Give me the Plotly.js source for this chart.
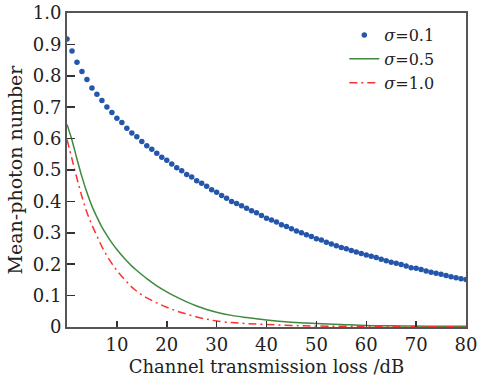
<!DOCTYPE html>
<html>
<head>
<meta charset="utf-8">
<script src="https://cdn.plot.ly/plotly-3.0.1.min.js"></script>
<style>html,body{margin:0;padding:0;background:#fff;}#chart{width:478px;height:381px;}</style>
</head>
<body>
<div id="chart"></div>
<script>
// sigma = 0.1 (dots, one per dB)
var lossDots = [0,1,2,3,4,5,6,7,8,9,10,11,12,13,14,15,16,17,18,19,20,21,22,23,24,25,26,27,28,29,30,31,32,33,34,35,36,37,38,39,40,41,42,43,44,45,46,47,48,49,50,51,52,53,54,55,56,57,58,59,60,61,62,63,64,65,66,67,68,69,70,71,72,73,74,75,76,77,78,79,80];
var sigma01 = [0.917,0.879,0.843,0.814,0.788,0.761,0.741,0.721,0.701,0.683,0.665,0.651,0.633,0.618,0.606,0.591,0.577,0.566,0.553,0.541,0.531,0.519,0.507,0.498,0.486,0.478,0.466,0.458,0.448,0.437,0.429,0.419,0.410,0.400,0.393,0.386,0.378,0.370,0.364,0.355,0.346,0.341,0.334,0.326,0.320,0.313,0.306,0.300,0.294,0.288,0.281,0.277,0.270,0.264,0.259,0.253,0.249,0.244,0.239,0.234,0.229,0.225,0.221,0.216,0.211,0.206,0.203,0.199,0.194,0.189,0.187,0.183,0.178,0.174,0.171,0.168,0.164,0.160,0.157,0.154,0.151];

// sigma = 0.5 (solid green)
var lossG = [0,1,2,3,4,5,6,7,8,9,10,11,12,13,14,16,18,20,22,24,26,28,30,33,36,40,45,50,55,60,65,70,75,80];
var sigma05 = [0.645,0.595,0.535,0.478,0.428,0.385,0.350,0.318,0.292,0.268,0.247,0.228,0.210,0.194,0.180,0.154,0.131,0.112,0.095,0.080,0.067,0.056,0.047,0.037,0.030,0.022,0.015,0.011,0.008,0.005,0.004,0.003,0.002,0.002];

// sigma = 1.0 (red dash-dot)
var lossR = [0,1,2,3,4,5,6,7,8,9,10,11,12,13,14,15,16,18,20,22,24,26,28,30,33,36,40,45,50,60,70,80];
var sigma10 = [0.597,0.535,0.473,0.415,0.365,0.325,0.290,0.256,0.227,0.202,0.180,0.161,0.143,0.127,0.114,0.102,0.093,0.077,0.063,0.051,0.041,0.032,0.025,0.019,0.014,0.011,0.008,0.005,0.003,0.002,0.001,0.001];

var xTicks = [10,20,30,40,50,60,70,80];
var yTicks = [0,0.1,0.2,0.3,0.4,0.5,0.6,0.7,0.8,0.9,1.0];
var yTickText = ['0','0.1','0.2','0.3','0.4','0.5','0.6','0.7','0.8','0.9','1.0'];

var serif = 'DejaVu Serif, Liberation Serif, serif';

var traces = [
  {x: lossDots, y: sigma01, mode: 'markers', name: '<i>σ</i>=0.1',
   marker: {color: '#2457ab', size: 5.5}},
  {x: lossG, y: sigma05, mode: 'lines', name: '<i>σ</i>=0.5',
   line: {color: '#3d8a3d', width: 1.5, shape: 'spline', smoothing: 1}},
  {x: lossR, y: sigma10, mode: 'lines', name: '<i>σ</i>=1.0',
   line: {color: '#ff3030', width: 1.5, dash: '8px,4px,2px,4px', shape: 'spline', smoothing: 1}}
];

var axisCommon = {
  showline: true, linecolor: '#555', linewidth: 2, mirror: true,
  ticks: 'inside', tickcolor: '#333', tickwidth: 1.5,
  showgrid: false, zeroline: false,
  tickfont: {family: serif, size: 18, color: '#222'}
};

var layout = {
  width: 478, height: 381,
  margin: {l: 67, r: 12, t: 13, b: 54},
  paper_bgcolor: '#fff', plot_bgcolor: '#fff',
  showlegend: true,
  legend: {x: 0.695, y: 0.853, xanchor: 'left', yanchor: 'middle',
           bgcolor: 'rgba(0,0,0,0)', borderwidth: 0,
           font: {family: serif, size: 16, color: '#222'}},
  xaxis: Object.assign({}, axisCommon, {
    range: [0, 80], tickvals: xTicks, ticklen: 6,
    title: {text: 'Channel transmission loss /dB', font: {family: serif, size: 18, color: '#222'}, standoff: 7}
  }),
  yaxis: Object.assign({}, axisCommon, {
    range: [0, 1.0], tickvals: yTicks, ticktext: yTickText, ticklen: 8,
    title: {text: 'Mean-photon number', font: {family: serif, size: 19, color: '#222'}, standoff: 5}
  })
};

Plotly.newPlot('chart', traces, layout, {displayModeBar: false, staticPlot: true});
</script>
</body>
</html>
